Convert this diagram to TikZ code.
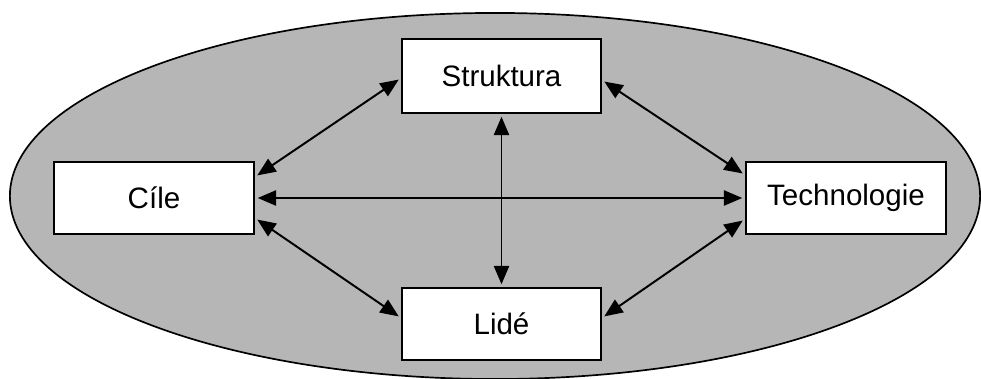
\documentclass[tikz,border=0pt]{standalone}
\usepackage{fontspec}
\setmainfont{Liberation Sans}
\usetikzlibrary{arrows.meta,calc}
\definecolor{oval}{RGB}{182,182,182}
\begin{document}
\begin{tikzpicture}[x=0.025cm,y=-0.025cm,
  box/.style={draw=black,line width=1.3pt,fill=white,inner sep=0pt,
    minimum width=5cm,minimum height=1.8cm,font=\fontsize{21}{25}\selectfont},
  tip/.style={},
  link/.style={line width=1.4pt,
    {Triangle[length=0.46cm,width=0.38cm]}-{Triangle[length=0.46cm,width=0.38cm]},
    shorten <=2pt,shorten >=2pt}]
  \useasboundingbox (0,0) rectangle (981,379);
  \fill[white] (0,0) rectangle (981,379);
  \begin{scope}
    \clip (0,0) rectangle (981,379);
    \draw[fill=oval,line width=1.2pt] (495,196) ellipse [x radius=12.125cm,y radius=4.575cm];
  \end{scope}

  \node[box,minimum width=4.975cm,minimum height=1.85cm] (s) at (501.5,76) {Struktura};
  \node[box] (c) at (154,198) {Cíle};
  \node[box] (t) at (846,198) {Technologie};
  \node[box,minimum width=4.975cm] (l) at (501.5,324) {Lidé};

  % attachment points along box edges
  \coordinate (c1) at ($(c.east)+(0,-21)$);
  \coordinate (c2) at ($(c.east)+(0,20)$);
  \coordinate (t1) at ($(t.west)+(0,-23)$);
  \coordinate (t2) at ($(t.west)+(0,21)$);
  \coordinate (s1) at ($(s.west)+(0,2)$);
  \coordinate (s2) at ($(s.east)+(0,4)$);
  \coordinate (l1) at ($(l.west)+(0,-6)$);
  \coordinate (l2) at ($(l.east)+(0,-6)$);

  \draw[link] (c.east) -- (t.west);
  \draw[link] (s.south) -- (l.north);
  \draw[link] (c1) -- (s1);
  \draw[link] (s2) -- (t1);
  \draw[link] (c2) -- (l1);
  \draw[link] (l2) -- (t2);
\end{tikzpicture}
\end{document}
